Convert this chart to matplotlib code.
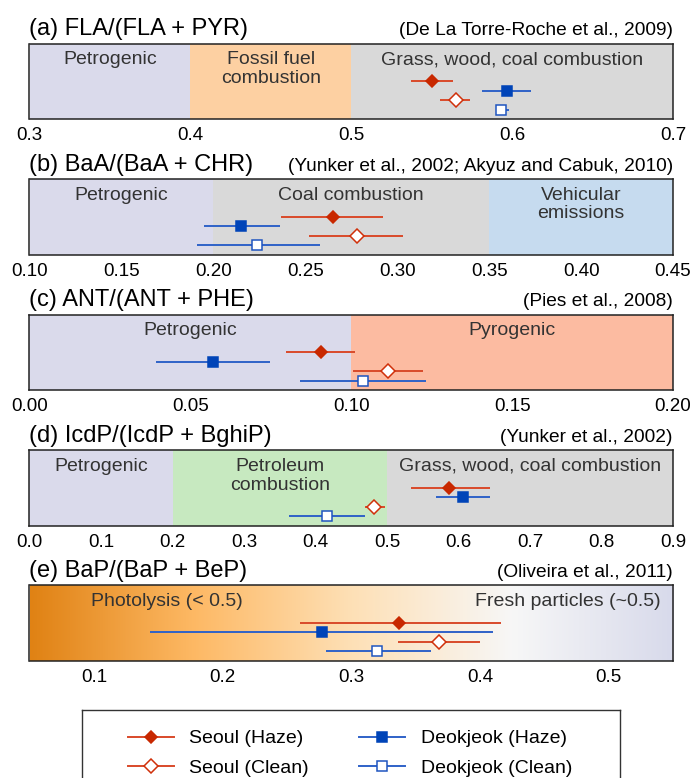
import numpy as np
import matplotlib
matplotlib.use("Agg")
import matplotlib.pyplot as plt
from matplotlib.lines import Line2D
from matplotlib.colors import LinearSegmentedColormap
from matplotlib.transforms import blended_transform_factory

plt.rcParams['font.family'] = ['Liberation Sans', 'DejaVu Sans']

# series order: Seoul (Haze), Deokjeok (Haze), Seoul (Clean), Deokjeok (Clean)
series = ["Seoul (Haze)", "Deokjeok (Haze)", "Seoul (Clean)", "Deokjeok (Clean)"]
rows = [4, 3, 2, 1]

# (a) FLA/(FLA + PYR)
fla_mean = [0.550, 0.597, 0.565, 0.593]
fla_low = [0.537, 0.581, 0.555, 0.590]
fla_high = [0.563, 0.612, 0.574, 0.598]

# (b) BaA/(BaA + CHR)
baa_mean = [0.265, 0.215, 0.278, 0.224]
baa_low = [0.237, 0.195, 0.252, 0.191]
baa_high = [0.292, 0.236, 0.303, 0.258]

# (c) ANT/(ANT + PHE)
ant_mean = [0.0905, 0.0571, 0.1113, 0.1037]
ant_low = [0.0798, 0.0394, 0.1006, 0.0842]
ant_high = [0.1012, 0.0749, 0.1223, 0.1232]

# (d) IcdP/(IcdP + BghiP)
icd_mean = [0.587, 0.606, 0.482, 0.416]
icd_low = [0.533, 0.569, 0.469, 0.3635]
icd_high = [0.644, 0.644, 0.497, 0.469]

# (e) BaP/(BaP + BeP)
bap_mean = [0.337, 0.277, 0.368, 0.320]
bap_low = [0.260, 0.144, 0.336, 0.280]
bap_high = [0.416, 0.4105, 0.400, 0.362]

# source regions: (start, end, colour)
LAV = '#dadaeb'
GRAY = '#d9d9d9'
fla_regions = [(0.3, 0.4, LAV), (0.4, 0.5, '#fdd0a2'), (0.5, 0.7, GRAY)]
fla_labels = [(0.35, "Petrogenic"), (0.45, "Fossil fuel\ncombustion"),
              (0.60, "Grass, wood, coal combustion")]
baa_regions = [(0.10, 0.20, LAV), (0.20, 0.35, GRAY), (0.35, 0.45, '#c6dbef')]
baa_labels = [(0.15, "Petrogenic"), (0.275, "Coal combustion"),
              (0.40, "Vehicular\nemissions")]
ant_regions = [(0.0, 0.1, LAV), (0.1, 0.2, '#fcbba1')]
ant_labels = [(0.05, "Petrogenic"), (0.15, "Pyrogenic")]
icd_regions = [(0.0, 0.2, LAV), (0.2, 0.5, '#c7e9c0'), (0.5, 0.9, GRAY)]
icd_labels = [(0.10, "Petrogenic"), (0.35, "Petroleum\ncombustion"),
              (0.70, "Grass, wood, coal combustion")]

# marker styles
line_cols = ['#d94a2a', '#2f62c8', '#d94a2a', '#2f62c8']
edge_cols = ['#c82800', '#0044b8', '#d0300a', '#1f55c0']
face_cols = ['#c82800', '#0044b8', 'white', 'white']
markers = ['D', 's', 'D', 's']
msizes = [6.5, 6.5, 6.8, 6.5]

W, H = 691, 778
fig = plt.figure(figsize=(W / 100, H / 100), dpi=100)


def make_ax(top_px):
    return fig.add_axes([29.5 / W, 1 - (top_px + 75.5) / H, 643.5 / W, 75.5 / H])


def draw_points(ax, mean, low, high):
    for i in range(4):
        xerr = [[mean[i] - low[i]], [high[i] - mean[i]]]
        ax.errorbar([mean[i]], [rows[i]], xerr=xerr, fmt=markers[i],
                    ecolor=line_cols[i], elinewidth=1.4, capsize=0,
                    mfc=face_cols[i], mec=edge_cols[i], mew=1.1,
                    ms=msizes[i], zorder=3)


def style_ax(ax, xlim, ticks, fmt, title, cite):
    ax.set_xlim(*xlim)
    ax.set_ylim(0.05, 7.95)
    ax.set_yticks([])
    ax.set_xticks(ticks)
    ax.set_xticklabels([fmt % t for t in ticks])
    ax.tick_params(axis='x', length=0, pad=6, labelsize=13.5)
    for s in ax.spines.values():
        s.set_linewidth(1.1)
        s.set_color('#222222')
    ax.set_title(title, loc='left', fontsize=17, pad=6)
    ax.set_title(cite, loc='right', fontsize=13.8, pad=6)


def draw_regions(ax, regions, labels):
    for lo, hi, c in regions:
        ax.axvspan(lo, hi, color=c, lw=0, zorder=0)
    tr = blended_transform_factory(ax.transData, ax.transAxes)
    for x, txt in labels:
        ax.text(x, 0.9, txt, transform=tr, ha='center', va='top',
                fontsize=14, color='#333333', linespacing=1.15)


# (a)
ax = make_ax(43.5)
draw_regions(ax, fla_regions, fla_labels)
draw_points(ax, fla_mean, fla_low, fla_high)
style_ax(ax, (0.3, 0.7), [0.3, 0.4, 0.5, 0.6, 0.7], '%.1f',
         "(a) FLA/(FLA + PYR)", "(De La Torre-Roche et al., 2009)")

# (b)
ax = make_ax(179)
draw_regions(ax, baa_regions, baa_labels)
draw_points(ax, baa_mean, baa_low, baa_high)
style_ax(ax, (0.10, 0.45), [0.10, 0.15, 0.20, 0.25, 0.30, 0.35, 0.40, 0.45], '%.2f',
         "(b) BaA/(BaA + CHR)", "(Yunker et al., 2002; Akyuz and Cabuk, 2010)")

# (c)
ax = make_ax(314.5)
draw_regions(ax, ant_regions, ant_labels)
draw_points(ax, ant_mean, ant_low, ant_high)
style_ax(ax, (0.0, 0.2), [0.0, 0.05, 0.10, 0.15, 0.20], '%.2f',
         "(c) ANT/(ANT + PHE)", "(Pies et al., 2008)")

# (d)
ax = make_ax(450)
draw_regions(ax, icd_regions, icd_labels)
draw_points(ax, icd_mean, icd_low, icd_high)
style_ax(ax, (0.0, 0.9), [0.0, 0.1, 0.2, 0.3, 0.4, 0.5, 0.6, 0.7, 0.8, 0.9], '%.1f',
         "(d) IcdP/(IcdP + BghiP)", "(Yunker et al., 2002)")

# (e) gradient background
ax = make_ax(585)
cmap = LinearSegmentedColormap.from_list(
    'bap', ['#e08214', '#fdb863', '#fee0b6', '#f7f7f7', '#d8daeb'])
ax.imshow(np.linspace(0, 1, 256).reshape(1, -1), extent=[0.05, 0.55, 0.05, 7.95],
          aspect='auto', cmap=cmap, zorder=0)
tr = blended_transform_factory(ax.transData, ax.transAxes)
ax.text(0.157, 0.9, "Photolysis (< 0.5)", transform=tr, ha='center', va='top',
        fontsize=14, color='#333333')
ax.text(0.540, 0.9, "Fresh particles (~0.5)", transform=tr, ha='right', va='top',
        fontsize=14, color='#333333')
draw_points(ax, bap_mean, bap_low, bap_high)
style_ax(ax, (0.05, 0.55), [0.1, 0.2, 0.3, 0.4, 0.5], '%.1f',
         "(e) BaP/(BaP + BeP)", "(Oliveira et al., 2011)")

# legend box (runs off the bottom of the figure)
lax = fig.add_axes([82 / W, -22 / H, 538 / W, 90 / H])
lax.set_xticks([])
lax.set_yticks([])
for s in lax.spines.values():
    s.set_linewidth(1.0)
    s.set_color('#333333')
order = [0, 2, 1, 3]
handles = [Line2D([], [], color=line_cols[i], lw=1.4, marker=markers[i],
                  mfc=face_cols[i], mec=edge_cols[i], mew=1.1, ms=msizes[i])
           for i in order]
labels = [series[i] for i in order]
lax.legend(handles, labels, ncol=2, loc='upper left', bbox_to_anchor=(0.085, 0.78),
           frameon=False, fontsize=14, borderpad=0, borderaxespad=0,
           handlelength=2.36, handletextpad=0.8, columnspacing=2.6,
           labelspacing=0.62, numpoints=1)

fig.savefig("out.png", dpi=100)
